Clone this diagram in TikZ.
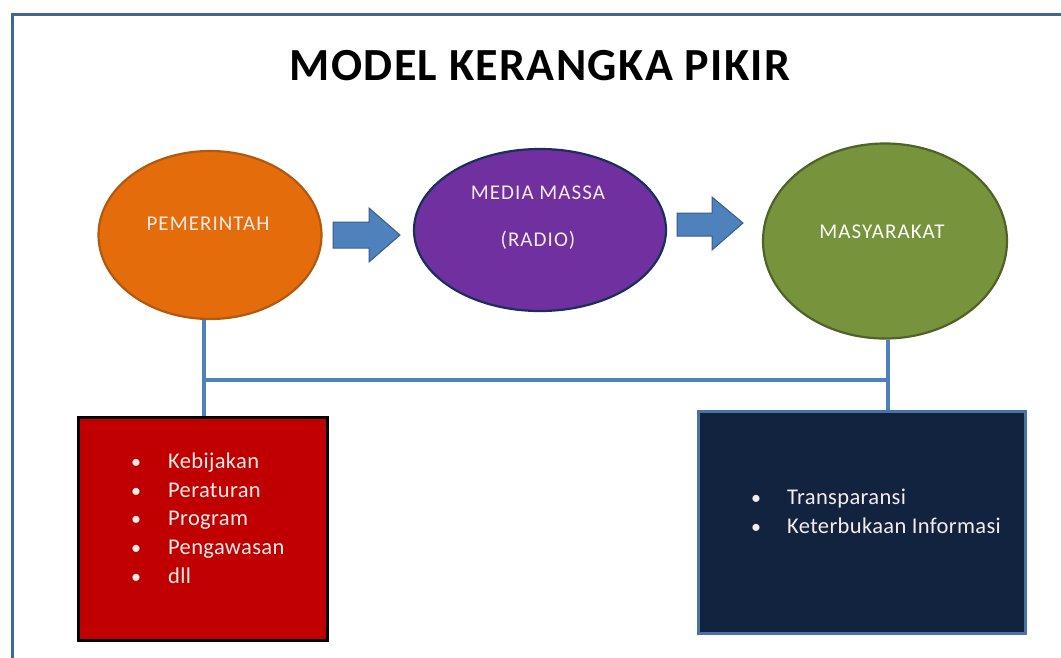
\documentclass[tikz,border=0pt]{standalone}
\usepackage{fontspec}
\setmainfont{Carlito}
\usetikzlibrary{shapes.geometric}
\definecolor{frameblue}{HTML}{3F6796}
\definecolor{orangefill}{HTML}{E46C0A}
\definecolor{orangeline}{HTML}{B05A10}
\definecolor{purplefill}{HTML}{7030A0}
\definecolor{purpleline}{HTML}{1A2F5E}
\definecolor{greenfill}{HTML}{77933C}
\definecolor{greenline}{HTML}{4F6228}
\definecolor{arrowfill}{HTML}{4F81BD}
\definecolor{arrowline}{HTML}{385D8A}
\definecolor{redfill}{HTML}{C00000}
\definecolor{navyfill}{HTML}{11233F}
\definecolor{navyline}{HTML}{4A72A6}
\definecolor{softwhite}{HTML}{F8ECEA}
\newfontfamily\ovalfont[LetterSpace=5]{Carlito}
\newfontfamily\itemfont[LetterSpace=1.6]{Carlito}
\newfontfamily\titlefont[LetterSpace=3]{Carlito}
\tikzset{
  oval/.style={ellipse, inner sep=0pt, line width=2.2pt},
  ovaltext/.style={anchor=base, text=softwhite, font=\ovalfont\fontsize{21}{23}\selectfont, inner sep=0pt},
  blockarrow/.style={fill=arrowfill, draw=arrowline, line width=1pt, line join=miter},
  conn/.style={draw=arrowfill, line width=4pt},
  itembox/.style={rectangle, inner sep=0pt, line width=3.2pt},
  itemtext/.style={anchor=base west, text=softwhite, font=\itemfont\fontsize{22.5}{24}\selectfont, inner sep=0pt},
  bullettext/.style={anchor=base, text=softwhite, font=\itemfont\fontsize{20}{22}\selectfont, inner sep=0pt},
}
\begin{document}
\begin{tikzpicture}[x=1pt,y=-1pt]
\useasboundingbox (0,0) rectangle (1061,657);
\fill[white] (0,0) rectangle (1061,657);
% outer frame (extends beyond the page on the right and bottom)
\draw[frameblue, line width=3pt] (1063,14) -- (12,14) -- (12,659);
% title
\node[anchor=base, inner sep=0pt, font=\titlefont\fontsize{46}{48}\bfseries\selectfont] (title) at (540,80) {MODEL KERANGKA PIKIR};
% ellipses
\node[oval, fill=orangefill, draw=orangeline, minimum width=223pt, minimum height=168pt] (pem) at (210,235) {};
\node[oval, fill=purplefill, draw=purpleline, minimum width=252pt, minimum height=162pt] (med) at (540,230) {};
\node[oval, fill=greenfill, draw=greenline, minimum width=244pt, minimum height=195pt] (mas) at (885,241) {};
\node[ovaltext] (pemT) at (208,230) {PEMERINTAH};
\node[ovaltext] (medT1) at (538,199) {MEDIA MASSA};
\node[ovaltext] (medT2) at (538,246) {(RADIO)};
\node[ovaltext, text=white] (masT) at (882,238) {MASYARAKAT};
% block arrows
\draw[blockarrow] (333,222) -- (369,222) -- (369,208) -- (400,235) -- (369,262) -- (369,248) -- (333,248) -- cycle;
\draw[blockarrow] (677,213) -- (712,213) -- (712,197) -- (743,223) -- (712,250) -- (712,236) -- (677,236) -- cycle;
% boxes
\node[itembox, fill=redfill, draw=black, minimum width=249pt, minimum height=223pt] (red) at (203,529) {};
\node[itembox, fill=navyfill, draw=navyline, minimum width=327pt, minimum height=222pt] (navy) at (862,522.5) {};
% connectors
\coordinate (jL) at (204,380);
\coordinate (jR) at (888,380);
\draw[conn] ([xshift=-6pt]pem.south) -- ([xshift=-6pt]pem.south |- red.north);
\draw[conn] ([xshift=3pt]mas.south) -- ([xshift=3pt]mas.south |- navy.north);
\draw[conn] (jL) -- (jR);
% left box items
\foreach \t/\y [count=\i] in {Kebijakan/468, Peraturan/497, Program/525, Pengawasan/554, dll/583}{
  \node[bullettext] (lb\i) at (136,\y) {•};
  \node[itemtext] (li\i) at (168,\y) {\t};
}
% right box items
\foreach \t/\y [count=\i] in {Transparansi/504, Keterbukaan Informasi/533}{
  \node[bullettext] (rb\i) at (756,\y) {•};
  \node[itemtext] (ri\i) at (787,\y) {\t};
}
\end{tikzpicture}
\end{document}
